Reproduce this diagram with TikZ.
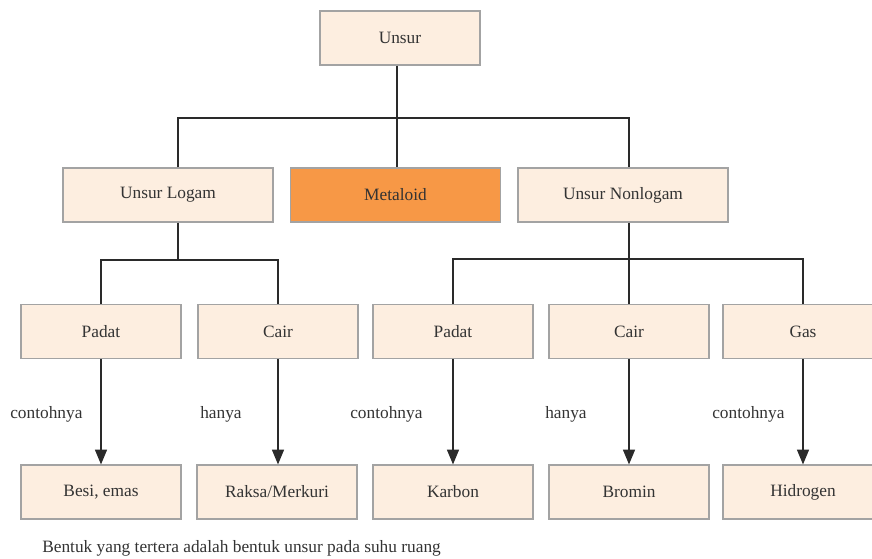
\documentclass[tikz,border=0pt]{standalone}
\usepackage{fontspec}
\setmainfont{Liberation Serif}
\usetikzlibrary{arrows.meta,calc}
\definecolor{boxfill}{HTML}{FDEEE0}
\definecolor{boxline}{HTML}{A3A3A3}
\definecolor{orangefill}{HTML}{F79846}
\definecolor{txt}{HTML}{333333}
\definecolor{conn}{HTML}{2A2A2A}
\tikzset{
  box/.style={draw=boxline, line width=0.9pt, fill=boxfill, minimum width=120pt, minimum height=40.5pt, inner sep=0pt, text=txt, font=\fontsize{13}{15}\selectfont},
  widebox/.style={box, minimum width=157.5pt},
  lbl/.style={anchor=west, inner sep=0pt, text=txt, font=\fontsize{13}{15}\selectfont},
  conline/.style={draw=conn, line width=0.8pt},
  arr/.style={conline, -{Triangle[width=9pt,length=11pt]}}
}
\begin{document}
\begin{tikzpicture}[x=0.75pt,y=-0.75pt]
\useasboundingbox (0,0) rectangle (872,559);
\clip (0,0) rectangle (872,559);
\node[box] (unsur) at (400,38) {Unsur};
\node[widebox] (ul) at (168,195) {Unsur Logam};
\node[widebox, fill=orangefill] (met) at (395.5,195) {Metaloid};
\node[widebox] (un) at (623,195) {Unsur Nonlogam};
\node[box] (p1) at (101,331.5) {Padat};
\node[box] (c1) at (278,331.5) {Cair};
\node[box] (p2) at (453,331.5) {Padat};
\node[box] (c2) at (629,331.5) {Cair};
\node[box] (g) at (803,331.5) {Gas};
\node[box] (b1) at (101,492) {Besi, emas};
\node[box] (b2) at (277,492) {Raksa/Merkuri};
\node[box] (b3) at (453,492) {Karbon};
\node[box] (b4) at (629,492) {Bromin};
\node[box] (b5) at (803,492) {Hidrogen};
\coordinate (j1) at (397,118);
\coordinate (j2) at (178,260);
\coordinate (j3) at (629,259);
\draw[conline] (unsur.south -| j1) -- (met.north -| j1);
\draw[conline] ([xshift=7.5pt]ul.north) |- (j1) -| ([xshift=4.5pt]un.north);
\draw[conline] ([xshift=7.5pt]ul.south) -- (j2);
\draw[conline] (p1.north) |- (j2) -| (c1.north);
\draw[conline] ([xshift=4.5pt]un.south) -- (j3);
\draw[conline] (p2.north) |- (j3) -| (g.north);
\draw[conline] (j3) -- (c2.north);
\draw[arr] (p1.south) -- (b1.north);
\draw[arr] (c1.south) -- (c1.south |- b2.north);
\draw[arr] (p2.south) -- (b3.north);
\draw[arr] (c2.south) -- (b4.north);
\draw[arr] (g.south) -- (b5.north);
\node[lbl] (l1) at (10,414) {contohnya};
\node[lbl] (l2) at (200,414) {hanya};
\node[lbl] (l3) at (350,414) {contohnya};
\node[lbl] (l4) at (545,414) {hanya};
\node[lbl] (l5) at (712,414) {contohnya};
\node[lbl] (note) at (42,548) {Bentuk yang tertera adalah bentuk unsur pada suhu ruang};
\end{tikzpicture}
\end{document}
